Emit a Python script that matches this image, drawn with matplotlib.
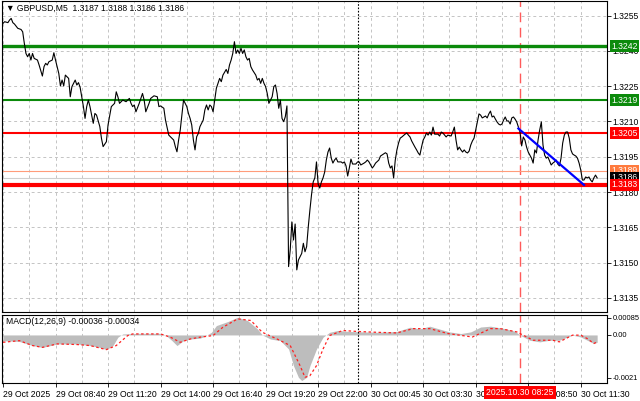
import matplotlib
matplotlib.use("Agg")
import matplotlib.pyplot as plt
from matplotlib.transforms import blended_transform_factory

plt.rcParams["font.family"] = ["Liberation Sans", "DejaVu Sans"]

# GBPUSD M5 closes, sampled bars (bar 0 = 29 Oct 06:00)
bars = [0, 1, 3, 4, 5, 6, 7, 9, 11, 12, 13, 14, 15, 16, 17, 18, 19, 21, 22, 24,
        25, 26, 27, 28, 30, 31, 32, 34, 35, 36, 37, 38, 40, 41, 42, 44, 45, 46, 47, 49,
        50, 51, 52, 53, 54, 55, 56, 57, 59, 60, 61, 63, 64, 66, 68, 69, 70, 71, 73, 75,
        77, 78, 79, 80, 81, 83, 85, 86, 87, 89, 90, 92, 94, 95, 96, 98, 99, 101, 102, 104,
        105, 106, 107, 108, 109, 110, 112, 113, 114, 115, 116, 117, 118, 119, 120, 122, 123, 124, 125, 126,
        127, 128, 129, 130, 131, 132, 133, 134, 136, 137, 138, 139, 140, 141, 142, 143, 144, 145, 146, 147,
        148, 149, 150, 151, 152, 154, 155, 156, 157, 158, 159, 160, 161, 162, 163, 164, 165, 166, 167, 168,
        169, 170, 171, 172, 173, 174, 175, 176, 177, 178, 179, 180, 181, 182, 183, 184, 185, 186, 187, 188,
        189, 190, 191, 192, 193, 194, 195, 196, 197, 198, 199, 200, 201, 202, 203, 204, 206, 207, 208, 209,
        210, 211, 212, 213, 215, 216, 217, 218, 220, 221, 222, 223, 224, 225, 226, 227, 229, 230, 232, 233,
        234, 235, 236, 237, 238, 239, 240, 241, 242, 243, 245, 246, 247, 248, 249, 250, 251, 252, 253, 254,
        255, 256, 257, 258, 259, 260, 261, 262, 263, 265, 266, 267, 268, 270, 271, 273, 274, 275, 276, 277,
        278, 279, 280, 281, 282, 283, 284, 285, 286, 287, 288, 289, 290, 291, 292, 293, 294, 295, 296, 297,
        298, 299, 300, 301, 302, 303, 304, 305, 306, 307, 308, 309, 310, 311, 312, 313, 314, 315, 316, 317,
        318, 319, 320, 321, 322, 323, 324, 325, 326, 327, 328, 329, 330, 331, 332, 333, 334, 335, 336, 337,
        338, 339, 340, 341, 342, 343, 344, 345, 346, 347, 348, 349, 350, 351, 352, 353, 354, 355, 356, 357,
        358, 359, 360, 361, 362]
closes = [1.32517, 1.32524, 1.32520, 1.32531, 1.32538, 1.32520, 1.32514, 1.32496, 1.32491, 1.32481,
          1.32432, 1.32389, 1.32375, 1.32389, 1.32361, 1.32389, 1.32368, 1.32361, 1.32340, 1.32293,
          1.32333, 1.32347, 1.32340, 1.32354, 1.32361, 1.32392, 1.32361, 1.32304, 1.32251, 1.32276,
          1.32251, 1.32297, 1.32283, 1.32205, 1.32248, 1.32276, 1.32255, 1.32265, 1.32245, 1.32163,
          1.32113, 1.32163, 1.32191, 1.32163, 1.32127, 1.32092, 1.32134, 1.32127, 1.32078, 1.32028,
          1.31993, 1.32014, 1.32085, 1.32163, 1.32177, 1.32226, 1.32205, 1.32177, 1.32191, 1.32184,
          1.32198, 1.32177, 1.32163, 1.32170, 1.32141, 1.32177, 1.32219, 1.32191, 1.32141, 1.32177,
          1.32198, 1.32209, 1.32205, 1.32163, 1.32166, 1.32156, 1.32106, 1.32042, 1.32035, 1.32021,
          1.31993, 1.31971, 1.32021, 1.32064, 1.32127, 1.32191, 1.32163, 1.32134, 1.32113, 1.32085,
          1.32021, 1.31979, 1.32035, 1.32049, 1.32078, 1.32106, 1.32149, 1.32170, 1.32149, 1.32170,
          1.32163, 1.32141, 1.32191, 1.32241, 1.32262, 1.32283, 1.32269, 1.32297, 1.32321, 1.32304,
          1.32340, 1.32361, 1.32389, 1.32439, 1.32389, 1.32404, 1.32389, 1.32411, 1.32389, 1.32404,
          1.32375, 1.32361, 1.32368, 1.32333, 1.32319, 1.32297, 1.32276, 1.32283, 1.32262, 1.32283,
          1.32262, 1.32248, 1.32219, 1.32177, 1.32191, 1.32205, 1.32248, 1.32255, 1.32219, 1.32156,
          1.32191, 1.32113, 1.32099, 1.32120, 1.32166, 1.31483, 1.31554, 1.31673, 1.31596, 1.31664,
          1.31469, 1.31511, 1.31525, 1.31539, 1.31582, 1.31546, 1.31568, 1.31652, 1.31724, 1.31790,
          1.31843, 1.31860, 1.31928, 1.31834, 1.31817, 1.31843, 1.31860, 1.31885, 1.31936, 1.31970,
          1.31987, 1.31944, 1.31923, 1.31936, 1.31944, 1.31928, 1.31928, 1.31923, 1.31928, 1.31911,
          1.31868, 1.31902, 1.31940, 1.31919, 1.31919, 1.31928, 1.31928, 1.31915, 1.31923, 1.31928,
          1.31936, 1.31928, 1.31915, 1.31902, 1.31911, 1.31923, 1.31936, 1.31953, 1.31962, 1.31967,
          1.31962, 1.31923, 1.31902, 1.31911, 1.31860, 1.31936, 1.31979, 1.32008, 1.32029, 1.32034,
          1.32046, 1.32051, 1.32042, 1.32034, 1.32017, 1.32004, 1.31991, 1.31979, 1.31966, 1.31957,
          1.31991, 1.32021, 1.32034, 1.32051, 1.32042, 1.32055, 1.32042, 1.32076, 1.32046, 1.32046,
          1.32038, 1.32055, 1.32051, 1.32034, 1.32042, 1.32038, 1.32055, 1.32076, 1.32021, 1.31979,
          1.31991, 1.31979, 1.31970, 1.31979, 1.31970, 1.31966, 1.31974, 1.32000, 1.32017, 1.32029,
          1.32064, 1.32098, 1.32132, 1.32127, 1.32115, 1.32119, 1.32123, 1.32115, 1.32132, 1.32144,
          1.32119, 1.32123, 1.32110, 1.32098, 1.32089, 1.32085, 1.32089, 1.32106, 1.32119, 1.32102,
          1.32102, 1.32089, 1.32115, 1.32119, 1.32110, 1.32098, 1.32076, 1.32055, 1.31996, 1.32034,
          1.32021, 1.31991, 1.31970, 1.31957, 1.31944, 1.31923, 1.31979, 1.31966, 1.32021, 1.32064,
          1.32098, 1.32000, 1.31957, 1.31944, 1.31949, 1.31932, 1.31915, 1.31923, 1.31928, 1.31936,
          1.31919, 1.31911, 1.31944, 1.32008, 1.32042, 1.32055, 1.32055, 1.32029, 1.31979, 1.31962,
          1.31957, 1.31953, 1.31944, 1.31923, 1.31894, 1.31851, 1.31851, 1.31864, 1.31860, 1.31864,
          1.31851, 1.31843, 1.31860, 1.31872, 1.31860]

# horizontal levels and their price-scale tags
level_prices = [1.3242, 1.3219, 1.3205, 1.3189, 1.3186, 1.3183]
level_tags = ["1.3242", "1.3219", "1.3205", "1.3189", "1.3186", "1.3183"]
level_colors = ["#0b8a0b", "#0b8a0b", "#ff0000", "#ff9c7a", "#cfcfcf", "#ff0000"]
level_widths = [2.4, 1.5, 1.5, 0.8, 0.8, 3.0]
tag_colors = ["#0b8a0b", "#0b8a0b", "#ff0000", "#ff7a3d", "#000000", "#ff0000"]

# blue trend line
trend_bars = [314, 354]
trend_prices = [1.3207, 1.3183]

price_ticks = [1.3135, 1.3150, 1.3165, 1.3180, 1.3195, 1.3210, 1.3225, 1.3240, 1.3255]
price_tick_labels = ["1.3135", "1.3150", "1.3165", "1.3180", "1.3195", "1.3210", "1.3225", "1.3240", "1.3255"]

time_tick_bars = [0, 32, 64, 96, 128, 160, 192, 224, 256, 288, 320, 352]
time_tick_labels = ["29 Oct 2025", "29 Oct 08:40", "29 Oct 11:20", "29 Oct 14:00", "29 Oct 16:40",
                    "29 Oct 19:20", "29 Oct 22:00", "30 Oct 00:45", "30 Oct 03:30", "30 Oct 06:15",
                    "30 Oct 08:50", "30 Oct 11:30"]
separator_bar = 216   # 30 Oct 00:00
marker_bar = 315      # 2025.10.30 08:25
marker_label = "2025.10.30 08:25"

# MACD(12,26,9) histogram and signal
macd_bars = [0, 10, 18, 24, 29, 33, 39, 45, 53, 59, 63, 67, 70, 73, 83, 96, 99, 103, 106, 110,
             114, 120, 123, 127, 130, 137, 143, 149, 155, 158, 163, 169, 174, 177, 180, 182, 185, 187, 191, 195,
             199, 204, 211, 228, 240, 248, 254, 260, 272, 279, 285, 291, 297, 306, 312, 315, 321, 327, 333, 339,
             344, 347, 352, 356, 360, 362]
macd_hist = [-0.00028, -0.00032, -0.00052, -0.00061, -0.00052, -0.00044, -0.00044, -0.00044, -0.00052, -0.00061,
             -0.00072, -0.00052, -0.00011, 0.00005, 0.00008, 0.00008, 0.0, -0.00028, -0.00052, -0.00028,
             -0.00020, -0.00016, -0.00006, 0.00013, 0.00046, 0.00066, 0.00087, 0.00071, 0.00030, 0.0,
             -0.00020, -0.00028, -0.00069, -0.00151, -0.00208, -0.00224, -0.00208, -0.00151, -0.00069, -0.00011,
             0.00013, 0.00022, 0.00017, 0.00013, 0.00017, 0.00038, 0.00030, 0.00043, 0.00015, 0.00007,
             0.00015, 0.00039, 0.00043, 0.00031, 0.00018, -0.00001, -0.00026, -0.00034, -0.00026, -0.00026,
             -0.00010, -0.00001, -0.00010, -0.00026, -0.00042, -0.00036]
signal_bars = [0, 10, 18, 24, 33, 45, 53, 63, 69, 76, 79, 96, 102, 108, 114, 120, 128, 134, 143, 151,
               158, 167, 175, 181, 184, 187, 191, 195, 199, 207, 216, 228, 240, 250, 260, 271, 286, 297, 303, 313,
               323, 335, 339, 347, 352, 356, 360, 362]
signal_vals = [-0.00036, -0.00028, -0.00052, -0.00061, -0.00044, -0.00047, -0.00052, -0.00072, -0.00052, -0.00003,
               0.00005, 0.00005, -0.00011, -0.00036, -0.00020, -0.00011, -0.00003, 0.00038, 0.00079, 0.00071,
               0.00013, -0.00020, -0.00052, -0.00151, -0.00208, -0.00200, -0.00151, -0.00069, -0.00003, 0.00022,
               0.00017, 0.00013, 0.00010, 0.00031, 0.00031, 0.00007, -0.00010, 0.00031, 0.00031, 0.00015,
               -0.00026, -0.00026, -0.00034, -0.00001, -0.00001, -0.00018, -0.00042, -0.00034]

title_text = "\u25bc GBPUSD,M5  1.3187 1.3188 1.3186 1.3186"
macd_text = "MACD(12,26,9) -0.00036 -0.00034"

FS = 6.2
GRID = dict(color="#c4c4c4", linestyle=(0, (3, 3)), linewidth=0.7)

fig = plt.figure(figsize=(6.4, 4.01), dpi=100)
ax = fig.add_axes([2 / 640, 1 - 312 / 401, 605 / 640, 311 / 401])
ax2 = fig.add_axes([2 / 640, 1 - 383 / 401, 605 / 640, 68 / 401])

xmin, xmax = -0.6, 368.0
grid_bars = list(range(0, 369, 16))

# main price panel
for b in grid_bars:
    ax.axvline(b, zorder=0, **GRID)
for p in price_ticks:
    ax.axhline(p, zorder=0, **GRID)

for p, c, w in zip(level_prices, level_colors, level_widths):
    ax.axhline(p, color=c, linewidth=w, zorder=2)

ax.axvline(separator_bar, color="black", linestyle=(0, (1.5, 1.5)), linewidth=0.8, zorder=1)
ax.axvline(marker_bar, color="#ff5a5a", linestyle=(0, (7, 4)), linewidth=1.0, zorder=1)

ax.plot(bars, closes, color="black", linewidth=0.8, zorder=4)
ax.plot(trend_bars, trend_prices, color="#0000ff", linewidth=1.6, zorder=5)

ax.set_xlim(xmin, xmax)
ax.set_ylim(1.31290, 1.32612)
ax.set_xticks([])
ax.yaxis.tick_right()
ax.set_yticks(price_ticks)
ax.set_yticklabels(price_tick_labels)
ax.tick_params(axis="y", labelsize=FS, length=3, width=0.6, pad=1.2, colors="black")
for s in ax.spines.values():
    s.set_linewidth(0.8)

trans = blended_transform_factory(ax.transAxes, ax.transData)
for p, t, c in zip(level_prices, level_tags, tag_colors):
    ax.text(1.007, p, t, transform=trans, fontsize=FS, color="white", va="center", ha="left",
            zorder=10, clip_on=False,
            bbox=dict(boxstyle="square,pad=0.2", facecolor=c, edgecolor="none"))

ax.text(0.006, 0.976, title_text, transform=ax.transAxes, fontsize=FS, va="center", ha="left")

# MACD panel
for b in grid_bars:
    ax2.axvline(b, zorder=0, **GRID)
ax2.fill_between(macd_bars, 0, macd_hist, color="#bdbdbd", linewidth=0, zorder=1)
ax2.plot(signal_bars, signal_vals, color="#ff2020", linestyle=(0, (2, 2)), linewidth=0.9, zorder=3)
ax2.axvline(separator_bar, color="black", linestyle=(0, (1.5, 1.5)), linewidth=0.8, zorder=2)
ax2.axvline(marker_bar, color="#ff5a5a", linestyle=(0, (7, 4)), linewidth=1.0, zorder=2)

ax2.set_xlim(xmin, xmax)
ax2.set_ylim(-0.00236, 0.00098)
ax2.yaxis.tick_right()
ax2.set_yticks([-0.0021, 0.0, 0.00085])
ax2.set_yticklabels(["-0.0021", "0.00", "0.00085"])
ax2.tick_params(axis="y", labelsize=5.4, length=3, width=0.6, pad=1.2)
ax2.set_xticks(time_tick_bars)
ax2.set_xticklabels(time_tick_labels, ha="left")
ax2.tick_params(axis="x", labelsize=FS, length=3, width=0.6, pad=2)
for s in ax2.spines.values():
    s.set_linewidth(0.8)

ax2.text(0.006, 0.91, macd_text, transform=ax2.transAxes, fontsize=FS, va="center", ha="left")

trans2 = blended_transform_factory(ax2.transData, ax2.transAxes)
ax2.text(marker_bar, -0.135, marker_label, transform=trans2, fontsize=FS, color="white",
         va="center", ha="center", zorder=10, clip_on=False,
         bbox=dict(boxstyle="square,pad=0.25", facecolor="#ff0000", edgecolor="none"))

fig.savefig("out.png", dpi=100, facecolor="white")
